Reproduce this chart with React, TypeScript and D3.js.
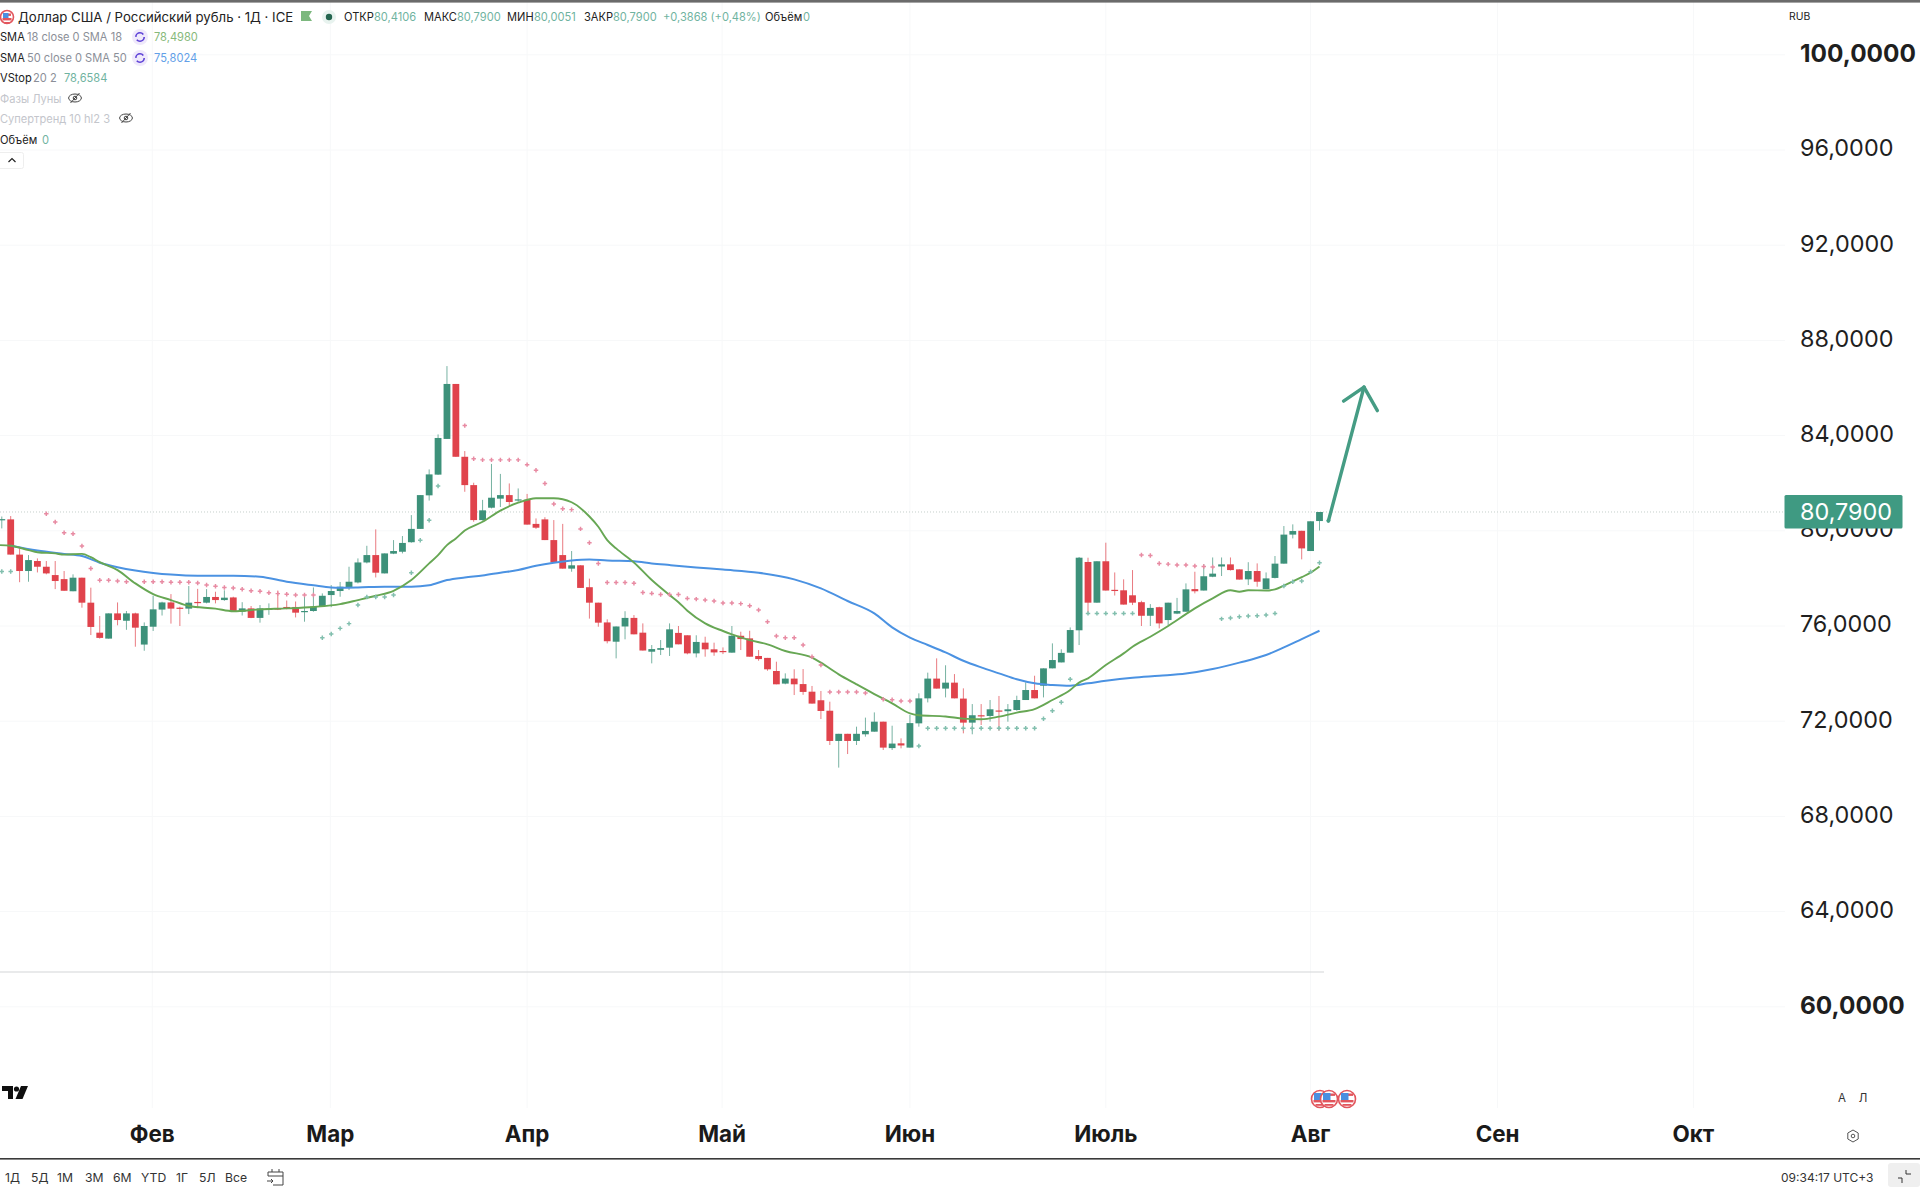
import React from "react";
import * as d3 from "d3";

const opens = [
  80.47,80.48,79.0,78.31,78.73,78.49,78.14,77.97,77.46,78.03,
  76.98,75.72,75.47,76.53,76.22,76.53,75.22,75.97,76.69,76.99,
  76.77,76.73,77.01,76.98,77.22,77.09,77.2,76.6,76.74,76.34,
  76.70,76.74,76.8,76.8,76.58,76.63,76.84,77.3,77.47,77.61,
  77.83,78.67,78.98,78.21,79.04,79.12,79.52,80.08,81.49,82.36,
  83.86,86.17,83.11,81.92,80.45,80.97,81.35,81.5,81.3,81.3,
  80.29,80.48,79.61,78.98,78.41,78.55,77.63,76.98,76.15,75.34,
  75.98,76.34,75.72,74.92,75.0,75.09,75.71,75.61,74.85,75.3,
  75.02,74.95,74.88,75.59,75.48,74.74,74.66,74.11,73.58,73.79,
  73.56,73.24,72.88,72.44,71.17,71.47,71.17,71.45,71.56,71.98,
  70.87,71.07,70.89,71.91,72.96,73.79,73.37,73.62,72.95,71.94,
  72.25,72.22,72.45,72.42,72.47,72.89,73.31,73.49,74.22,74.47,
  74.88,75.82,78.69,76.98,78.72,77.52,77.5,77.29,77.0,76.43,
  76.79,76.25,76.52,76.6,77.55,77.49,78.07,78.5,78.59,78.38,
  77.96,78.31,77.55,78.02,78.62,79.84,80.0,79.15,80.41,
];
const highs = [
  80.6,80.62,79.26,78.98,78.84,78.73,78.73,78.31,78.17,78.03,
  77.61,76.42,76.53,76.99,76.63,76.56,76.15,77.27,77.02,77.34,
  76.81,77.68,77.56,77.55,77.44,77.5,77.23,77.0,76.84,76.88,
  76.95,77.49,77.07,77.03,77.27,77.62,77.37,77.72,77.85,78.49,
  78.84,79.37,80.06,79.05,79.61,79.78,80.66,81.5,82.58,84.05,
  86.92,86.17,83.35,82.02,81.3,82.81,82.39,81.99,81.78,81.55,
  80.52,80.57,80.45,80.29,79.15,78.55,77.99,76.98,76.28,75.98,
  76.62,76.46,76.11,75.2,75.41,76.11,76.0,75.61,75.61,75.55,
  75.3,75.1,76.0,75.76,75.8,74.99,74.66,74.5,74.01,74.18,
  74.19,73.48,73.27,72.82,71.47,71.47,71.77,72.15,72.37,71.98,
  71.81,71.28,72.26,73.17,74.04,74.64,74.35,73.98,73.38,72.72,
  72.72,72.89,73.06,72.72,73.07,73.63,73.91,74.22,75.27,75.02,
  75.94,78.9,78.87,78.72,79.5,78.25,77.96,78.35,77.06,76.92,
  76.81,76.98,77.18,77.79,78.28,78.6,78.88,78.88,78.88,78.38,
  78.68,78.63,78.25,78.94,80.2,80.27,80.0,80.4,80.79,
];
const lows = [
  80.1,79.0,77.84,77.86,78.25,78.17,77.55,77.48,77.46,76.77,
  75.62,75.47,75.47,76.03,75.84,75.13,74.96,75.79,76.44,76.10,
  76.0,76.5,76.75,76.95,76.95,77.06,76.59,76.44,76.33,76.14,
  76.47,76.67,76.7,76.36,76.18,76.6,76.81,76.79,77.23,77.51,
  77.79,78.63,78.04,78.21,79.02,79.05,79.5,80.08,81.27,82.35,
  83.86,83.11,81.64,80.38,80.43,80.94,81.0,81.04,81.22,80.26,
  80.08,79.61,78.67,78.41,78.28,77.6,76.31,75.97,75.27,74.64,
  75.44,75.65,74.97,74.43,74.78,74.74,75.23,74.81,74.68,74.71,
  74.75,74.82,74.88,74.99,74.71,74.54,74.12,73.55,73.55,73.1,
  73.11,72.74,72.09,71.0,70.05,70.62,71.0,71.35,71.56,70.79,
  70.79,70.86,70.89,71.77,72.79,73.37,73.0,72.96,71.49,71.45,
  71.84,71.98,71.6,71.98,72.44,72.89,72.96,73.0,74.22,74.47,
  74.88,75.2,76.56,76.98,77.49,77.28,76.9,76.88,76.0,76.0,
  75.9,76.04,76.5,76.6,77.37,77.49,78.05,78.1,78.33,77.95,
  77.72,77.65,77.55,78.0,78.62,79.68,78.8,79.15,80.01,
];
const closes = [
  80.49,79.0,78.31,78.77,78.49,78.21,77.89,77.48,78.03,76.98,
  75.96,75.50,76.53,76.25,76.53,75.93,76.0,76.70,76.99,76.73,
  76.74,76.98,76.98,77.22,77.09,77.19,76.62,76.74,76.34,76.74,
  76.73,76.70,76.76,76.56,76.63,76.81,77.27,77.47,77.65,77.86,
  78.67,78.98,78.24,79.05,79.15,79.49,80.08,81.5,82.37,83.9,
  86.17,83.11,81.92,80.45,80.86,81.39,81.5,81.21,81.32,80.26,
  80.13,79.61,78.67,78.41,78.55,77.6,76.98,76.14,75.36,75.98,
  76.34,75.65,74.97,75.03,75.07,75.86,75.23,74.85,75.33,75.02,
  74.89,74.93,75.59,75.45,74.71,74.61,74.18,73.55,73.79,73.55,
  73.23,72.74,72.43,71.17,71.47,71.17,71.47,71.59,71.98,70.89,
  71.06,70.98,71.92,72.96,73.79,73.37,73.62,72.96,71.94,72.25,
  72.22,72.5,72.43,72.5,72.89,73.31,72.96,74.22,74.57,74.87,
  75.83,78.87,76.98,78.72,77.49,77.49,76.9,76.98,76.43,76.76,
  76.11,76.98,76.63,77.54,77.46,78.09,78.2,78.59,78.35,77.95,
  78.31,77.86,78.0,78.62,79.84,79.99,79.26,80.4,80.79,
];

const sma18Idx = [-1.2,0,2,3,5,6,8,9,10,12,14,16,18,20,23,25,28,31,34,37,39,41,43,45,47,48,49,50,51,53,55,57,59,61,63,65,66,67,68,70,72,74,75,76,78,80,81,83,85,87,90,91,93,95,97,99,101,102,105,107,109,111,113,115,117,119,120,121,123,125,126,128,130,132,133,135,137,138,139,141,142,143,145,146,147];
const sma18Vals = [79.4,79.37,79.19,79.1,79.05,79.0,79.03,78.89,78.68,78.35,77.79,77.34,77.09,76.84,76.73,76.62,76.7,76.74,76.8,76.92,77.09,77.27,77.48,77.93,78.63,78.98,79.4,79.68,80.01,80.38,80.85,81.18,81.37,81.37,81.2,80.6,80.17,79.61,79.26,78.67,77.93,77.3,77.0,76.64,76.11,75.79,75.65,75.41,75.23,74.95,74.67,74.46,73.97,73.55,73.14,72.75,72.33,72.25,72.2,72.11,72.08,72.19,72.36,72.51,72.89,73.31,73.62,73.8,74.36,74.85,75.13,75.55,76.0,76.5,76.74,77.16,77.5,77.44,77.5,77.49,77.54,77.7,78.05,78.24,78.5];
const sma50Idx = [0,3,6,8,10,12,14,16,18,21,25,28,31,34,36,37,39,42,45,47,49,51,53,55,57,59,61,63,65,67,70,72,74,77,80,84,88,91,94,97,99,101,103,105,107,109,111,113,115,117,119,121,123,126,129,132,135,138,141,143,145,147];
const sma50Vals = [79.37,79.17,79.03,78.94,78.66,78.47,78.33,78.23,78.16,78.11,78.11,78.07,77.86,77.71,77.62,77.61,77.62,77.65,77.65,77.71,77.93,78.04,78.12,78.24,78.35,78.53,78.66,78.75,78.79,78.75,78.72,78.63,78.56,78.46,78.37,78.24,77.96,77.58,77.05,76.53,75.94,75.51,75.2,74.89,74.54,74.26,74.01,73.76,73.59,73.52,73.49,73.59,73.7,73.83,73.91,74.0,74.19,74.46,74.78,75.1,75.45,75.8];

const stopUpIdx = [4,5,6,7,8,9,10,11,12,13,15,16,17,18,19,20,21,22,23,24,25,26,27,28,29,30,31,32,33,34,51,52,53,54,55,56,57,58,59,60,61,62,63,64,65,66,67,68,69,70,71,72,73,74,75,76,77,78,79,80,81,82,83,84,85,86,87,88,89,90,91,92,93,94,95,96,98,99,100,101,127,128,129,130,131,132,133,134,135];
const stopUpVals = [80.72,80.37,79.92,79.88,79.36,78.42,77.92,77.92,77.89,77.86,77.86,77.86,77.86,77.84,77.84,77.84,77.81,77.72,77.67,77.62,77.6,77.54,77.48,77.46,77.4,77.36,77.33,77.3,77.3,77.3,84.42,83.03,82.98,82.98,82.98,82.98,82.98,82.78,82.54,81.99,81.13,80.93,80.89,80.08,79.5,78.63,77.83,77.83,77.83,77.8,77.41,77.37,77.32,77.32,77.32,77.16,77.13,77.09,77.05,76.97,76.97,76.94,76.85,76.67,76.18,75.58,75.51,75.51,75.2,74.71,74.36,73.23,73.23,73.23,73.23,73.18,72.92,72.9,72.85,72.85,78.98,78.96,78.63,78.6,78.56,78.56,78.52,78.5,78.48];
const stopDownIdx = [-1,0,35,36,37,38,39,40,41,42,43,45,46,47,48,102,103,104,105,106,107,108,109,110,111,112,113,114,115,116,117,118,119,121,122,123,124,125,126,136,137,138,139,140,141,142,143,144,145,146,147,148];
const stopDownVals = [78.29,78.29,75.51,75.66,75.9,76.1,76.88,77.22,77.22,77.22,77.3,78.24,79.6,80.44,81.88,70.96,71.7,71.7,71.7,71.7,71.7,71.7,71.7,71.7,71.7,71.7,71.7,71.7,71.7,72.1,72.44,72.8,73.76,76.53,76.53,76.53,76.53,76.53,76.53,76.3,76.34,76.39,76.42,76.43,76.46,76.53,77.68,77.86,77.89,78.28,78.66,80.43];

const priceTicks = [100,96,92,88,84,80,76,72,68,64,60];
const boldTicks = [100,60];
const monthLabels = ["Фев","Мар","Апр","Май","Июн","Июль","Авг","Сен","Окт"];
const monthIdx = [15.9,35.9,58,79.9,101,123,146,167,189];
const arrowIdx = [149.7,152,153.5];
const arrowVals = [85.45,86.04,85.05];
const arrowTail = [148,80.41];
const rangeButtons = ["1Д","5Д","1М","3М","6М","YTD","1Г","5Л","Все"];
const rangeButtonX = [5,31,57,85,113,141,176,199,225];
const lastPrice = 80.79;

const UP = "#3d917a";
const DOWN = "#e0434c";
const FONT = "Inter, 'Noto Sans', sans-serif";

const x = d3.scaleLinear().domain([0,147]).range([10.7,1319.5]);
const y = d3.scaleLinear().domain([76,84]).range([626,435.6]);

const linePath = (idx: number[], vals: number[]) =>
  d3.line<number>().x((_, i) => x(idx[i])).y((v) => y(v)).curve(d3.curveMonotoneX)(vals) as string;
const cross = d3.symbol().type(d3.symbolCross).size(11)() as string;

function Flag({ cx, cy, r }: { cx: number; cy: number; r: number }) {
  return (
    <g>
      <circle cx={cx} cy={cy} r={r} fill="#fff" stroke="#e2555c" strokeWidth={1.6} />
      <rect x={cx - r + 2.5} y={cy - r + 3} width={2 * r - 5} height={2.4} fill="#e2555c" />
      <rect x={cx - r + 2} y={cy + 1} width={2 * r - 4} height={2.4} fill="#e2555c" />
      <rect x={cx - r + 4} y={cy + 5} width={2 * r - 8} height={1.8} fill="#e2555c" />
      <rect x={cx - r + 2.5} y={cy - r + 2.5} width={r - 1} height={r - 1.5} fill="#4a8fe0" />
    </g>
  );
}
function Refresh({ cx, cy }: { cx: number; cy: number }) {
  return (
    <g>
      <circle cx={cx} cy={cy} r={8} fill="#efe9fb" />
      <circle cx={cx} cy={cy} r={4.2} fill="none" stroke="#5b3fd6" strokeWidth={1.6} strokeDasharray="10 3" />
    </g>
  );
}
function Eye({ cx, cy }: { cx: number; cy: number }) {
  return (
    <g fill="none" stroke="#444" strokeWidth={1}>
      <ellipse cx={cx} cy={cy} rx={6.4} ry={4} />
      <circle cx={cx} cy={cy} r={1.8} />
      <line x1={cx - 4.5} y1={cy + 5} x2={cx + 4.5} y2={cy - 5} />
    </g>
  );
}

export default function App() {
  const black = "#222";
  const grayTxt = "#8b8f98";
  const pale = "#c4c6cc";
  const teal = "#6fb3a0";
  const gridColor = "#f7f8f9";
  return (
    <svg
      width={1920}
      height={1187}
      viewBox="0 0 1920 1187"
      style={{ position: "fixed", left: 0, top: 0, background: "#fff", fontFamily: FONT }}
    >
      {/* grid */}
      {priceTicks.map((t) => (
        <line key={t} x1={0} x2={1785} y1={y(t)} y2={y(t)} stroke={gridColor} />
      ))}
      {monthIdx.map((m, i) => (
        <line key={i} x1={x(m)} x2={x(m)} y1={0} y2={1108} stroke={gridColor} />
      ))}
      <rect x={0} y={0} width={1920} height={2.6} fill="#6b6b6b" />
      <line x1={0} x2={1324} y1={972} y2={972} stroke="#d3d6d8" strokeWidth={1.2} />
      <line x1={0} x2={1785} y1={y(lastPrice)} y2={y(lastPrice)} stroke="#c5cfcb" strokeDasharray="1 2" />

      {/* candles */}
      {closes.map((c, k) => {
        const i = k - 1;
        const o = opens[k];
        const col = c >= o ? UP : DOWN;
        const top = y(Math.max(o, c));
        const bot = y(Math.min(o, c));
        return (
          <g key={k}>
            <line x1={x(i)} x2={x(i)} y1={y(highs[k])} y2={y(lows[k])} stroke={col} strokeOpacity={0.7} />
            <rect x={x(i) - 3.4} width={6.8} y={top} height={Math.max(bot - top, 1.2)} fill={col} />
          </g>
        );
      })}

      {/* indicators */}
      <path d={linePath(sma50Idx, sma50Vals)} fill="none" stroke="#4b92e2" strokeWidth={2} />
      <path d={linePath(sma18Idx, sma18Vals)} fill="none" stroke="#67a754" strokeWidth={1.9} />
      {stopUpIdx.map((d, i) => (
        <path key={i} d={cross} transform={`translate(${x(d)},${y(stopUpVals[i])})`} fill="#e88ba3" />
      ))}
      {stopDownIdx.map((d, i) => (
        <path key={i} d={cross} transform={`translate(${x(d)},${y(stopDownVals[i])})`} fill="#82bfae" />
      ))}

      {/* arrow */}
      <g fill="none" stroke="#459c84" strokeWidth={3.4} strokeLinecap="round" strokeLinejoin="round">
        <line x1={x(arrowTail[0])} y1={y(arrowTail[1])} x2={x(arrowIdx[1])} y2={y(arrowVals[1])} />
        <path d={d3.line<number>().x((_, i) => x(arrowIdx[i])).y((v) => y(v))(arrowVals) as string} />
      </g>

      {/* legend */}
      <g fontSize={11.1} fill={black} style={{ dominantBaseline: "central" }}>
        <Flag cx={7} cy={17} r={6.5} />
        <text x={18} y={16.5} fontSize={13.2}>Доллар США / Российский рубль · 1Д · ICE</text>
        <path d="M301 11h11l-3 5 3 5h-11z" fill="#7cb87e" />
        <circle cx={329} cy={17} r={7} fill="#e8f3ef" />
        <circle cx={329} cy={17} r={3.2} fill="#24654f" />
        <text x={344} y={16.5}>ОТКР</text>
        <text x={374} y={16.5} fill={teal}>80,4106</text>
        <text x={424} y={16.5}>МАКС</text>
        <text x={457} y={16.5} fill={teal}>80,7900</text>
        <text x={507} y={16.5}>МИН</text>
        <text x={534} y={16.5} fill={teal}>80,0051</text>
        <text x={584} y={16.5}>ЗАКР</text>
        <text x={613} y={16.5} fill={teal}>80,7900</text>
        <text x={663} y={16.5} fill={teal}>+0,3868 (+0,48%)</text>
        <text x={765} y={16.5}>Объём</text>
        <text x={803} y={16.5} fill={teal}>0</text>
        <text x={0} y={37}>SMA</text>
        <text x={27} y={37} fill={grayTxt}>18 close 0 SMA 18</text>
        <Refresh cx={140} cy={37} />
        <text x={154} y={37} fill="#86b97a">78,4980</text>
        <text x={0} y={57.5}>SMA</text>
        <text x={27} y={57.5} fill={grayTxt}>50 close 0 SMA 50</text>
        <Refresh cx={140} cy={58} />
        <text x={154} y={57.5} fill="#62a0e8">75,8024</text>
        <text x={0} y={78}>VStop</text>
        <text x={33} y={78} fill={grayTxt}>20 2</text>
        <text x={64} y={78} fill={teal}>78,6584</text>
        <text x={0} y={98.5} fill={pale}>Фазы Луны</text>
        <Eye cx={75} cy={98} />
        <text x={0} y={119} fill={pale}>Супертренд 10 hl2 3</text>
        <Eye cx={126} cy={118} />
        <text x={0} y={139.5}>Объём</text>
        <text x={42} y={139.5} fill={teal}>0</text>
        <rect x={-2} y={152.5} width={25.5} height={16} rx={2} fill="#fff" stroke="#eeeeee" />
        <path d="M8.5 162l3.5-3.5 3.5 3.5" fill="none" stroke="#222" strokeWidth={1.2} />
        <text x={1789} y={16} fontSize={10.4}>RUB</text>
      </g>

      {/* price axis */}
      <g fill="#1f1f1f" style={{ dominantBaseline: "central" }}>
        {priceTicks.map((t) => {
          const bold = boldTicks.includes(t);
          return (
            <text key={t} x={1800} y={y(t) - 2.2} fontWeight={bold ? 700 : 400} fontSize={bold ? 24.4 : 23.4}>
              {d3.format(".4f")(t).replace(".", ",")}
            </text>
          );
        })}
      </g>
      <rect x={1784.5} y={495} width={118} height={33.4} rx={1.5} fill="#3f9a82" />
      <text x={1800} y={511} fontSize={23.4} fill="#fff" style={{ dominantBaseline: "central" }}>
        {d3.format(".4f")(lastPrice).replace(".", ",")}
      </text>

      {/* time axis */}
      <g fontSize={22.4} fontWeight={700} fill="#1a1a1a" textAnchor="middle" style={{ dominantBaseline: "central" }}>
        {monthLabels.map((m, i) => (
          <text key={m} x={x(monthIdx[i])} y={1133}>{m}</text>
        ))}
      </g>
      <g fill="#0f0f0f">
        <path d="M2 1086h11v13h-5v-8H2z" />
        <circle cx={16.5} cy={1089} r={2.6} />
        <path d="M21 1086h7l-5.5 13h-7z" />
      </g>
      <Flag cx={1320} cy={1099} r={8.5} />
      <Flag cx={1329} cy={1099} r={8.5} />
      <Flag cx={1347} cy={1099} r={8.5} />
      <g fontSize={11.5} fill="#333" textAnchor="middle" style={{ dominantBaseline: "central" }}>
        <text x={1842} y={1098}>А</text>
        <text x={1863} y={1098}>Л</text>
      </g>
      <g fill="none" stroke="#555" strokeWidth={1}>
        <path d="M1853 1130l5.2 3v6l-5.2 3-5.2-3v-6z" />
        <circle cx={1853} cy={1136} r={1.8} />
      </g>

      {/* bottom bar */}
      <rect x={0} y={1158} width={1920} height={1.6} fill="#3a3a3a" />
      <g fontSize={12.2} fill="#333" style={{ dominantBaseline: "central" }}>
        {rangeButtons.map((b, i) => (
          <text key={b} x={rangeButtonX[i]} y={1177.5}>{b}</text>
        ))}
        <text x={1781} y={1177.5} fontSize={12}>09:34:17 UTC+3</text>
      </g>
      <g fill="none" stroke="#444" strokeWidth={1}>
        <path d="M268 1172h15v13h-10M268 1176v-4M268 1176h15M272 1169v3M279 1169v3M267 1181h6M271 1179l2 2-2 2" />
      </g>
      <rect x={1888} y={1163} width={32} height={24} rx={3} fill="#efefef" />
      <g fill="none" stroke="#333" strokeWidth={1}>
        <path d="M1898 1178h4v5M1906 1170v4h5" />
      </g>
    </svg>
  );
}
